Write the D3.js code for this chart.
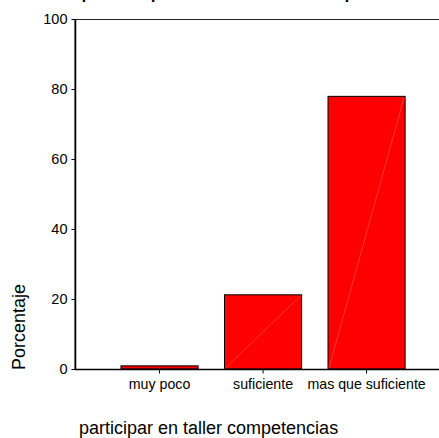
<!DOCTYPE html>
<html>
<head>
<meta charset="utf-8">
<script src="https://cdn.jsdelivr.net/npm/d3@7"></script>
<style>
  html, body { margin: 0; padding: 0; background: #fff; }
  svg { display: block; font-family: "Liberation Sans", Arial, sans-serif; }
</style>
</head>
<body>
<svg id="chart" width="439" height="438"></svg>
<script>
const categories = ["muy poco", "suficiente", "mas que suficiente"];
const values = [0.9, 21.2, 77.9];
const yTicks = [0, 20, 40, 60, 80, 100];
const titleText = "participar en taller competencias";
const xLabel = "participar en taller competencias";
const yLabel = "Porcentaje";

const svg = d3.select("#chart");
const plotLeft = 75, plotTop = 19, plotBottom = 369, frameRight = 470;
const FONT = "'Liberation Sans', Arial, sans-serif";

const x = d3.scaleBand().domain(categories).range([74.4, 451.7])
  .paddingInner(0.255).paddingOuter(0.45);
const y = d3.scaleLinear().domain([0, 100]).range([plotBottom, plotTop]);

// clipped title at top (as in the reference, only its descenders show)
svg.append("text").attr("x", 81).attr("y", -3)
  .style("font-size", "26px").style("font-family", FONT)
  .attr("fill", "#000").text(titleText);

// frame (top and bottom lines extend beyond right edge)
svg.append("rect").attr("x", plotLeft).attr("y", plotTop + 0.5)
  .attr("width", frameRight - plotLeft).attr("height", plotBottom - plotTop)
  .attr("fill", "none").attr("stroke", "#222").attr("stroke-width", 1);

// bars
const bars = svg.append("g");
bars.selectAll("rect").data(values).join("rect")
  .attr("x", (d, i) => x(categories[i]))
  .attr("y", d => y(d))
  .attr("width", x.bandwidth())
  .attr("height", d => y(0) - y(d))
  .attr("fill", "#ff0000").attr("stroke", "#000").attr("stroke-width", 1);
bars.selectAll("line").data(values).join("line")
  .attr("x1", (d, i) => x(categories[i]) + 1)
  .attr("y1", y(0) - 1)
  .attr("x2", (d, i) => x(categories[i]) + x.bandwidth() - 1)
  .attr("y2", d => y(d) + 1)
  .attr("stroke", "#ff7070").attr("stroke-width", 0.6)
  .attr("opacity", d => d > 5 ? 0.8 : 0);

// y axis
const yAxis = d3.axisLeft(y).tickValues(yTicks).tickSize(4).tickPadding(4)
  .tickFormat(d3.format("d"));
const gy = svg.append("g").attr("transform", `translate(${plotLeft + 0.5},0)`).call(yAxis);
gy.select(".domain").attr("stroke", "#000").attr("stroke-width", 1.5).attr("d", `M0,${plotTop}V${plotBottom}`);
gy.selectAll(".tick line").attr("stroke", "#000");
gy.selectAll(".tick text").style("font-size", "14.5px").style("font-family", FONT).attr("fill", "#000");

// x axis
const xAxis = d3.axisBottom(x).tickSize(4).tickPadding(5);
const gx = svg.append("g").attr("transform", `translate(0,${plotBottom + 0.5})`).call(xAxis);
gx.select(".domain").attr("stroke", "#000").attr("stroke-width", 1.5).attr("d", `M${plotLeft},0H${frameRight}`);
gx.selectAll(".tick line").attr("stroke", "#000");
gx.selectAll(".tick text").style("font-size", "14.2px").style("font-family", FONT).attr("fill", "#000");

// axis titles
svg.append("text").attr("x", 79).attr("y", 434)
  .style("font-size", "18px").style("font-family", FONT).attr("fill", "#000").text(xLabel);
svg.append("text").attr("transform", "translate(25,370) rotate(-90)")
  .style("font-size", "18px").style("font-family", FONT).attr("fill", "#000").text(yLabel);
</script>
</body>
</html>
